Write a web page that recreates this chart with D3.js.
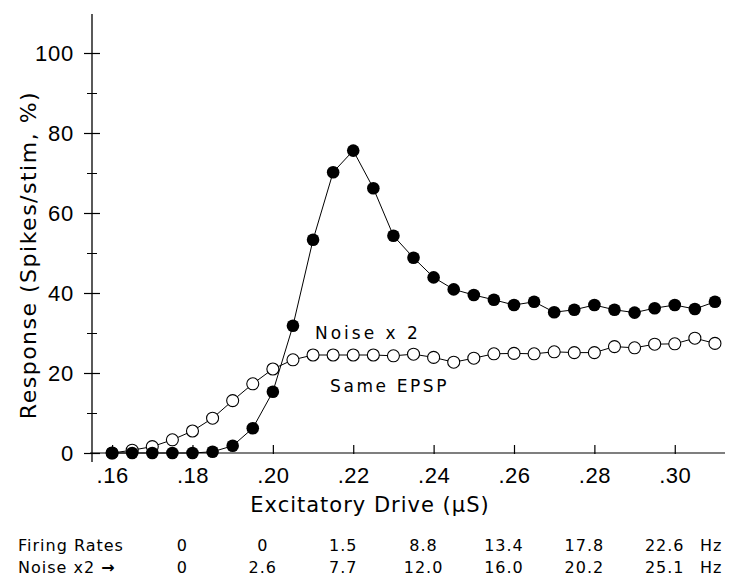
<!DOCTYPE html>
<html>
<head>
<meta charset="utf-8">
<script src="https://cdn.jsdelivr.net/npm/d3@7"></script>
<style>
  body { margin: 0; background: #fff; }
  svg { font-family: "DejaVu Sans", sans-serif; }
</style>
</head>
<body>
<div id="wrapper"></div>
<script>
// excitatory drive (uS) for every point
const drive = [0.160, 0.165, 0.170, 0.175, 0.180, 0.185, 0.190, 0.195, 0.200, 0.205,
    0.210, 0.215, 0.220, 0.225, 0.230, 0.235, 0.240, 0.245, 0.250, 0.255,
    0.260, 0.265, 0.270, 0.275, 0.280, 0.285, 0.290, 0.295, 0.300, 0.305, 0.310];

// filled dots: noise x 2
const noiseX2 = [0, 0, 0, 0, 0, 0.3, 1.8, 6.2, 15.3, 31.8,
    53.3, 70.2, 75.6, 66.2, 54.3, 48.8, 43.9, 40.9, 39.5, 38.3,
    37.0, 37.8, 35.2, 35.8, 37.0, 35.8, 35.1, 36.2, 37.0, 36.0, 37.8];

// open dots: same EPSP
const sameEpsp = [0, 0.7, 1.6, 3.3, 5.5, 8.7, 13.1, 17.3, 21.0, 23.3,
    24.5, 24.5, 24.5, 24.5, 24.3, 24.7, 23.9, 22.7, 23.7, 24.8,
    24.9, 24.8, 25.3, 25.1, 25.1, 26.6, 26.3, 27.2, 27.3, 28.7, 27.4];

const xTicks = [0.16, 0.18, 0.20, 0.22, 0.24, 0.26, 0.28, 0.30];
const yMajor = [0, 20, 40, 60, 80, 100];
const yMinor = [10, 30, 50, 70, 90];

// table under the axis
const tableCols = [0.1775, 0.1975, 0.2175, 0.2375, 0.2575, 0.2775, 0.2975];
const firingRates = ['0', '0', '1.5', '8.8', '13.4', '17.8', '22.6'];
const noiseRates = ['0', '2.6', '7.7', '12.0', '16.0', '20.2', '25.1'];

let dimensions = {
    width: 740,
    height: 578,
    margin: { top: 13, right: 15, bottom: 125, left: 92 }
};
dimensions.boundW = dimensions.width - dimensions.margin.left - dimensions.margin.right;
dimensions.boundH = dimensions.height - dimensions.margin.top - dimensions.margin.bottom;

const svg = d3.select('#wrapper').append('svg')
    .attr('width', dimensions.width)
    .attr('height', dimensions.height);

const bounds = svg.append('g')
    .attr('transform', `translate(${dimensions.margin.left},${dimensions.margin.top})`);

const xScale = d3.scaleLinear()
    .domain([0.155, 0.3125])
    .range([0, dimensions.boundW]);

const yScale = d3.scaleLinear()
    .domain([0, 110])
    .range([dimensions.boundH, 0]);

//axes
const yAxis = bounds.append('g')
    .call(d3.axisLeft(yScale).tickValues(yMajor).tickSize(8).tickPadding(10).tickFormat(d3.format('d')));
yAxis.select('.domain').remove();
yAxis.selectAll('line').attr('x1', 8).attr('stroke', '#000').attr('stroke-width', 1.2);
yAxis.selectAll('text').style('font-size', '22px').style('letter-spacing', '0.8px').attr('fill', '#000');

const yMinorAxis = bounds.append('g')
    .call(d3.axisLeft(yScale).tickValues(yMinor).tickSize(5).tickFormat(''));
yMinorAxis.select('.domain').remove();
yMinorAxis.selectAll('line').attr('x1', 5).attr('stroke', '#000');

bounds.append('line')
    .attr('x1', 0).attr('x2', 0)
    .attr('y1', 1).attr('y2', dimensions.boundH + 9)
    .attr('stroke', '#000').attr('stroke-width', 1.3);

const xAxis = bounds.append('g')
    .attr('transform', `translate(0,${dimensions.boundH})`)
    .call(d3.axisBottom(xScale).tickValues(xTicks).tickSizeInner(-8).tickSizeOuter(0).tickPadding(14)
        .tickFormat(d => d3.format('.2f')(d).replace(/^0/, '')));
xAxis.select('.domain').remove();
xAxis.selectAll('line').attr('y2', -8).attr('y1', 1).attr('stroke', '#000').attr('stroke-width', 1.2);
xAxis.selectAll('text').style('font-size', '22px').style('letter-spacing', '0.5px').attr('fill', '#000');

bounds.append('line')
    .attr('x1', -2).attr('x2', dimensions.boundW)
    .attr('y1', dimensions.boundH).attr('y2', dimensions.boundH)
    .attr('stroke', '#000').attr('stroke-width', 1.2);

//lines + dots
const lineGen = series => d3.line()
    .x((d, i) => xScale(drive[i]))
    .y(d => yScale(d))(series);

bounds.append('path')
    .attr('d', lineGen(sameEpsp))
    .attr('fill', 'none').attr('stroke', '#000').attr('stroke-width', 1);

bounds.selectAll('.open')
    .data(sameEpsp)
    .join('circle')
    .attr('class', 'open')
    .attr('cx', (d, i) => xScale(drive[i]))
    .attr('cy', d => yScale(d))
    .attr('r', 6)
    .attr('fill', '#fff').attr('stroke', '#000').attr('stroke-width', 1.1);

bounds.append('path')
    .attr('d', lineGen(noiseX2))
    .attr('fill', 'none').attr('stroke', '#000').attr('stroke-width', 1);

bounds.selectAll('.filled')
    .data(noiseX2)
    .join('circle')
    .attr('class', 'filled')
    .attr('cx', (d, i) => xScale(drive[i]))
    .attr('cy', d => yScale(d))
    .attr('r', 6.3)
    .attr('fill', '#000');

//curve labels
bounds.append('text')
    .attr('x', 223).attr('y', 326)
    .text('Noise x 2')
    .style('font-size', '17px').style('letter-spacing', '3px');

bounds.append('text')
    .attr('x', 238).attr('y', 379)
    .text('Same EPSP')
    .style('font-size', '17px').style('letter-spacing', '2.6px');

//axis titles
svg.append('text')
    .attr('x', 370).attr('y', 512)
    .attr('text-anchor', 'middle')
    .text('Excitatory Drive (µS)')
    .style('font-size', '21px').style('letter-spacing', '1px');

svg.append('text')
    .attr('transform', 'translate(36,255) rotate(-90)')
    .attr('text-anchor', 'middle')
    .text('Response (Spikes/stim, %)')
    .style('font-size', '22px').style('letter-spacing', '1.5px');

//table of firing rates
const table = svg.append('g').style('font-size', '16px').style('letter-spacing', '1px');

table.append('text').attr('x', 18).attr('y', 551).text('Firing Rates');
const noiseRow = table.append('text').attr('x', 18).attr('y', 573);
noiseRow.append('tspan').text('Noise x2 ');
noiseRow.append('tspan').text('→').style('font-weight', 'bold');

table.selectAll('.fr')
    .data(firingRates)
    .join('text')
    .attr('class', 'fr')
    .attr('x', (d, i) => dimensions.margin.left + xScale(tableCols[i]))
    .attr('y', 551)
    .attr('text-anchor', 'middle')
    .text(d => d);

table.selectAll('.nr')
    .data(noiseRates)
    .join('text')
    .attr('class', 'nr')
    .attr('x', (d, i) => dimensions.margin.left + xScale(tableCols[i]))
    .attr('y', 573)
    .attr('text-anchor', 'middle')
    .text(d => d);

table.append('text').attr('x', 700).attr('y', 551).text('Hz');
table.append('text').attr('x', 700).attr('y', 573).text('Hz');
</script>
</body>
</html>
